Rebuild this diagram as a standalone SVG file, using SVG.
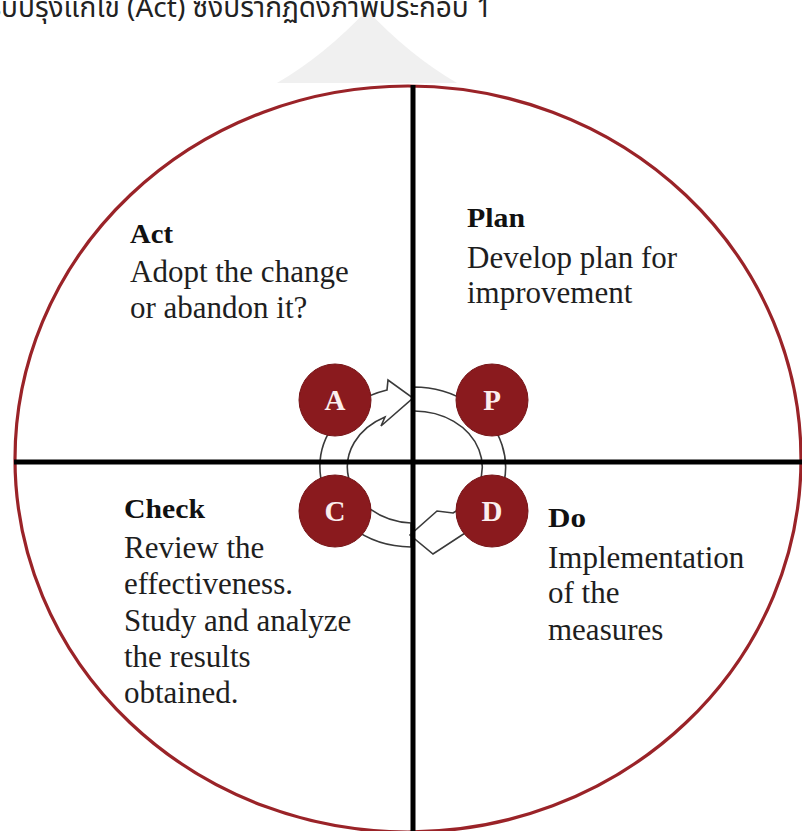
<svg xmlns="http://www.w3.org/2000/svg" width="802" height="831" viewBox="0 0 802 831">
<style>
.body{font-family:"Liberation Serif","Times New Roman",serif;font-size:31px;fill:#1e1e1e}
.head{font-family:"Liberation Serif","Times New Roman",serif;font-size:27px;font-weight:bold;fill:#111}
.letter{font-family:"Liberation Serif","Times New Roman",serif;font-size:29px;font-weight:bold;fill:#fbeeee;text-anchor:middle}
.dot{fill:#8a1a1e;stroke:#761417;stroke-width:1}
.band{fill:#fff;stroke:#3a3a3a;stroke-width:1.6;stroke-linejoin:miter}
.axis{stroke:#000;stroke-width:5}
.thai{font-family:"Noto Sans Thai","Noto Sans Thai UI","Tahoma","DejaVu Sans",sans-serif;font-size:28px;fill:#222}
</style>
<rect width="802" height="831" fill="#fff"/>
<path d="M277,83 Q325,55 367,10 Q409,55 457,83 Z" fill="#f0f0f0"/>
<text class="thai" x="492" y="17" text-anchor="end">ปรับปรุงแก้ไข (Act) ซึ่งปรากฏดังภาพประกอบ 1</text>
<ellipse cx="408" cy="459" rx="393" ry="373" fill="none" stroke="#9a2328" stroke-width="3.2"/>
<g id="connectors">
<path class="band" d="M411,547 A92,80 0 0 1 387,390 L388,380 L413,398 L381,426 L385,417 A68,56 0 0 0 411,523 Z"/>
<path class="band" d="M413,387 A92,80 0 0 1 462,535 L433,554 L410,535 L437,511 L453,513 A68,56 0 0 0 413,411 Z"/>
</g>
<line class="axis" x1="413" y1="85" x2="413" y2="831"/>
<line class="axis" x1="14" y1="462" x2="802" y2="462"/>
<g id="node-A"><circle class="dot" cx="335" cy="400" r="36"/><text class="letter" x="335" y="410">A</text></g>
<g id="node-P"><circle class="dot" cx="492" cy="400" r="36"/><text class="letter" x="492" y="410">P</text></g>
<g id="node-C"><circle class="dot" cx="335" cy="511" r="36"/><text class="letter" x="335" y="521">C</text></g>
<g id="node-D"><circle class="dot" cx="492" cy="511" r="36"/><text class="letter" x="492" y="521">D</text></g>
<g id="act">
<text class="head" x="130" y="243" textLength="43" lengthAdjust="spacingAndGlyphs">Act</text>
<text class="body" x="130" y="282">Adopt the change</text>
<text class="body" x="130" y="318">or abandon it?</text>
</g>
<g id="plan">
<text class="head" x="467" y="227" textLength="58" lengthAdjust="spacingAndGlyphs">Plan</text>
<text class="body" x="467" y="268">Develop plan for</text>
<text class="body" x="467" y="303">improvement</text>
</g>
<g id="check">
<text class="head" x="124" y="518" textLength="81" lengthAdjust="spacingAndGlyphs">Check</text>
<text class="body" x="124" y="558">Review the</text>
<text class="body" x="124" y="594">effectiveness.</text>
<text class="body" x="124" y="631">Study and analyze</text>
<text class="body" x="124" y="667">the results</text>
<text class="body" x="124" y="703">obtained.</text>
</g>
<g id="do">
<text class="head" x="548" y="527" textLength="38" lengthAdjust="spacingAndGlyphs">Do</text>
<text class="body" x="548" y="568">Implementation</text>
<text class="body" x="548" y="603">of the</text>
<text class="body" x="548" y="640">measures</text>
</g>
</svg>
